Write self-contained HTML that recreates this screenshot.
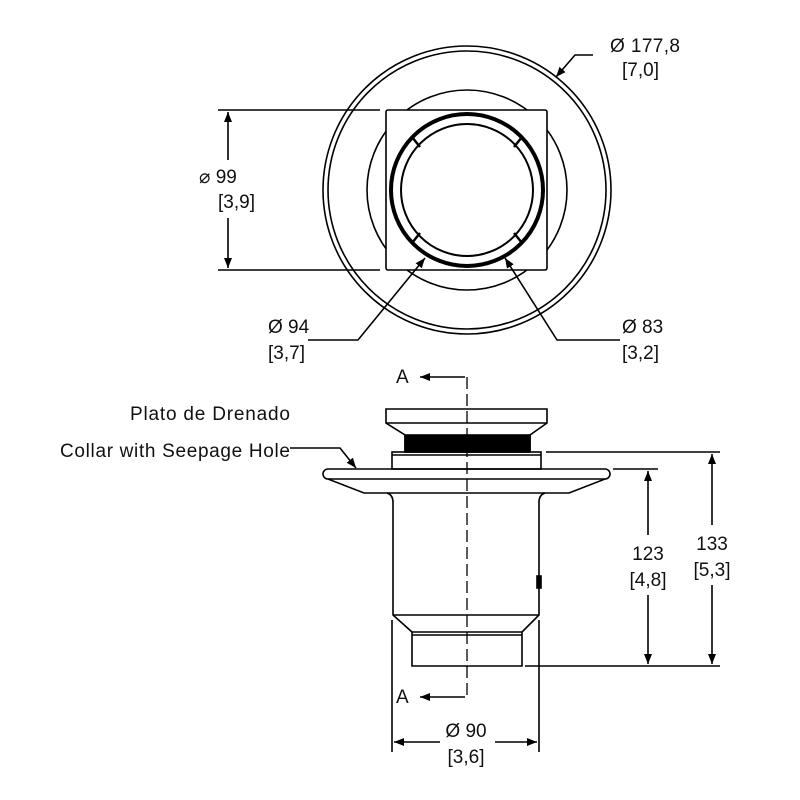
<!DOCTYPE html>
<html><head><meta charset="utf-8"><style>
html,body{margin:0;padding:0;background:#fff}
svg{display:block}
text{font-family:"Liberation Sans",sans-serif;font-size:19px;fill:#111}
</style></head><body>
<svg width="800" height="800" viewBox="0 0 800 800" xmlns="http://www.w3.org/2000/svg">
<defs>
<marker id="ar" markerWidth="10" markerHeight="8" refX="10" refY="4" orient="auto" markerUnits="userSpaceOnUse"><path d="M0,0 L10,4 L0,8 Z" fill="#000"/></marker>
<clipPath id="outsq"><path d="M0,0H800V800H0Z M386,110V270H547V110Z" clip-rule="evenodd"/></clipPath>
</defs>
<g fill="none" stroke="#000" stroke-width="1.6">
<circle cx="467" cy="190" r="144"/>
<circle cx="467" cy="190" r="139"/>
<circle cx="467" cy="190" r="100" clip-path="url(#outsq)"/>
<rect x="386" y="110" width="161" height="160" rx="2"/>
<circle cx="467" cy="190" r="76" stroke-width="4"/>
<circle cx="467" cy="190" r="66" stroke-width="2"/>
<g stroke-width="2.5">
<path d="M412,137 l8,10 M522,137 l-8,10 M412,243 l8,-10 M522,243 l-8,-10"/>
</g>
<line x1="218" y1="110" x2="380" y2="110"/>
<line x1="218" y1="270" x2="380" y2="270"/>
<line x1="228" y1="160" x2="228" y2="112" marker-end="url(#ar)"/>
<line x1="228" y1="218" x2="228" y2="268" marker-end="url(#ar)"/>
<polyline points="593,55 575,55 556,77" marker-end="url(#ar)"/>
<polyline points="308,340 358,340 425,258" marker-end="url(#ar)"/>
<polyline points="620,340 557,340 505,258" marker-end="url(#ar)"/>
<path d="M386,409 H547 V423 L530,435 V452 H405 V435 L386,423 Z"/>
<line x1="386" y1="423" x2="547" y2="423"/>
<rect x="405" y="435" width="125" height="17" fill="#000"/>
<rect x="392" y="452" width="149" height="17"/>
<line x1="392" y1="455" x2="541" y2="455"/>
<path d="M328,469 H605 A5,5 0 0 1 605,479 L569,493 H545 Q539,495 539,502 V615 L522,632 V666 H412 V632 L393,615 V502 Q393,495 387,493 H364 L328,479 A5,5 0 0 1 328,469 Z"/>
<line x1="328" y1="479" x2="605" y2="479"/>
<line x1="387" y1="493" x2="545" y2="493"/>
<line x1="393" y1="615" x2="539" y2="615"/>
<line x1="412" y1="632" x2="522" y2="632"/>
<line x1="412" y1="635" x2="522" y2="635"/>
<rect x="537" y="576" width="4" height="12" fill="#000"/>
<line x1="467" y1="377" x2="467" y2="700" stroke-dasharray="12,5" stroke-width="1.3"/>
<line x1="465" y1="377" x2="420" y2="377" marker-end="url(#ar)"/>
<line x1="465" y1="697" x2="420" y2="697" marker-end="url(#ar)"/>
<polyline points="290,448 340,448 356,468" marker-end="url(#ar)"/>
<line x1="546" y1="452" x2="720" y2="452"/>
<line x1="613" y1="469" x2="658" y2="469"/>
<line x1="525" y1="666" x2="720" y2="666"/>
<line x1="648" y1="535" x2="648" y2="471" marker-end="url(#ar)"/>
<line x1="648" y1="595" x2="648" y2="664" marker-end="url(#ar)"/>
<line x1="712" y1="525" x2="712" y2="454" marker-end="url(#ar)"/>
<line x1="712" y1="585" x2="712" y2="664" marker-end="url(#ar)"/>
<line x1="392" y1="620" x2="392" y2="752"/>
<line x1="539" y1="620" x2="539" y2="752"/>
<line x1="440" y1="742" x2="394" y2="742" marker-end="url(#ar)"/>
<line x1="495" y1="742" x2="537" y2="742" marker-end="url(#ar)"/>
</g>
<text x="610" y="52" textLength="70">Ø 177,8</text>
<text x="622" y="76">[7,0]</text>
<text x="199" y="183">⌀  99</text>
<text x="218" y="208">[3,9]</text>
<text x="268" y="333">Ø 94</text>
<text x="268" y="359">[3,7]</text>
<text x="622" y="333">Ø 83</text>
<text x="622" y="359">[3,2]</text>
<text x="396" y="383">A</text>
<text x="396" y="703">A</text>
<text x="130" y="420" textLength="160">Plato de Drenado</text>
<text x="60" y="457" textLength="230">Collar with Seepage Hole</text>
<text x="648" y="560" text-anchor="middle">123</text>
<text x="648" y="586" text-anchor="middle">[4,8]</text>
<text x="712" y="550" text-anchor="middle">133</text>
<text x="712" y="576" text-anchor="middle">[5,3]</text>
<text x="466" y="737" text-anchor="middle">Ø 90</text>
<text x="466" y="763" text-anchor="middle">[3,6]</text>
</svg>
</body></html>
